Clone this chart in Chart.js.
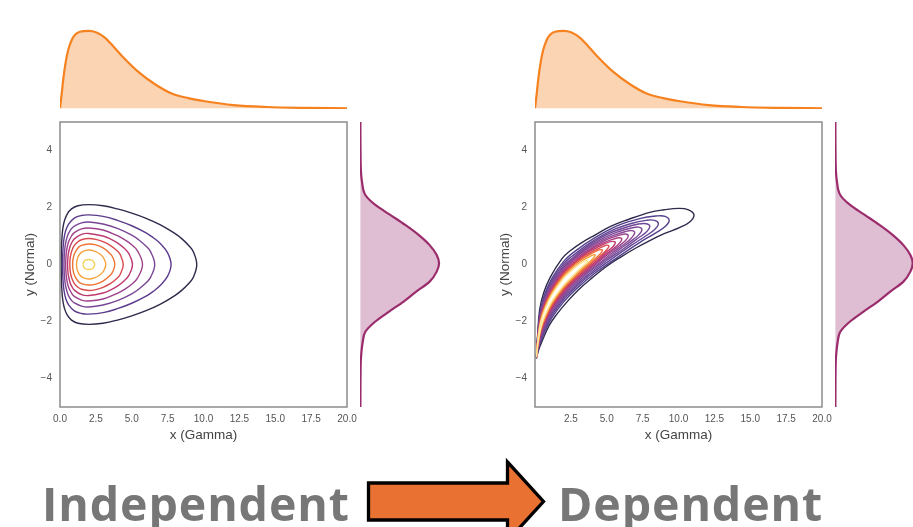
<!DOCTYPE html>
<html>
<head>
<meta charset="utf-8">
<script src="https://cdn.jsdelivr.net/npm/chart.js@4.4.1/dist/chart.umd.min.js"></script>
<style>
  html, body { margin: 0; padding: 0; background: #fff; }
  #page { position: relative; width: 913px; height: 527px; overflow: hidden; background: #fff; }
  canvas { position: absolute; }
  svg { position: absolute; left: 0; top: 0; pointer-events: none; }
</style>
</head>
<body>
<div id="page">
  <canvas id="leftTop" width="297" height="84" style="left:55px;top:25px"></canvas>
  <canvas id="rightTop" width="297" height="84" style="left:530px;top:25px"></canvas>
  <canvas id="leftMain" width="360" height="331" style="left:0;top:112px"></canvas>
  <canvas id="rightMain" width="360" height="331" style="left:475px;top:112px"></canvas>
  <canvas id="leftSide" width="95" height="295" style="left:355px;top:117px"></canvas>
  <canvas id="rightSide" width="83" height="295" style="left:830px;top:117px"></canvas>
  <svg width="913" height="527">
    <text x="42" y="520.5" font-family="Open Sans, Liberation Sans, sans-serif" font-weight="700" font-size="46.5" letter-spacing="0.9" fill="#777">Independent</text>
    <polygon points="368.5,483 507.5,483 507.5,462 543.5,501.5 507.5,541 507.5,520 368.5,520" fill="#e97132" stroke="#000" stroke-width="3.3" stroke-linejoin="miter"/>
    <text x="558" y="520.5" font-family="Open Sans, Liberation Sans, sans-serif" font-weight="700" font-size="46.5" letter-spacing="0.9" fill="#777">Dependent</text>
  </svg>
</div>
<script>
// tick labels
const xTicksLeft = [0, 2.5, 5, 7.5, 10, 12.5, 15, 17.5, 20];
const xTicksRight = [2.5, 5, 7.5, 10, 12.5, 15, 17.5, 20];
const yTicks = [-4, -2, 0, 2, 4];

// marginal densities (relative height, peak = 1)
const gammaX = [0, 0.12, 0.23, 0.4, 0.58, 0.81, 1.05, 1.39, 1.97, 2.55, 3.14, 3.72, 4.3, 5.46, 6.62, 7.78, 8.94, 10.1, 12.1, 14.4, 17, 20];
const gammaDensity = [0, 0.19, 0.38, 0.6, 0.76, 0.88, 0.95, 0.99, 1.0, 0.98, 0.91, 0.8, 0.68, 0.47, 0.31, 0.19, 0.13, 0.09, 0.04, 0.016, 0.005, 0];
const normalY = [-5, -3.5, -3.18, -2.71, -2.36, -2.0, -1.66, -1.3, -0.95, -0.6, -0.25, 0.04, 0.33, 0.68, 1.04, 1.39, 1.74, 2.09, 2.44, 2.91, 3.5, 5];
const normalDensity = [0, 0.004, 0.01, 0.03, 0.063, 0.19, 0.36, 0.55, 0.71, 0.88, 0.97, 1.0, 0.97, 0.88, 0.74, 0.57, 0.38, 0.19, 0.063, 0.02, 0.004, 0];

// independent panel: upper half of each contour (outer -> inner), mirrored about y = 0
const indepContourX = [
  [0.085, 0.1, 0.15, 0.2, 0.3, 0.5, 0.8, 1.25, 2, 3, 4, 5, 6, 7, 8, 8.5, 9, 9.3, 9.53],
  [0.177, 0.2, 0.25, 0.3, 0.4, 0.6, 1, 1.5, 2, 3, 4, 5, 6, 6.5, 7, 7.5, 7.74],
  [0.28, 0.3, 0.35, 0.4, 0.5, 0.6, 0.8, 1, 1.5, 2, 3, 4, 5, 5.5, 6, 6.3, 6.6],
  [0.395, 0.42, 0.5, 0.6, 0.8, 1, 1.5, 2, 3, 4, 4.5, 5, 5.4, 5.75],
  [0.528, 0.55, 0.6, 0.7, 0.8, 1, 1.5, 2, 3, 3.5, 4, 4.5, 4.8, 5.05],
  [0.685, 0.7, 0.75, 0.85, 1, 1.25, 1.5, 2, 2.5, 3, 3.5, 4, 4.2, 4.41],
  [0.88, 0.9, 1, 1.25, 1.5, 2, 2.5, 3, 3.5, 3.7, 3.82],
  [1.15, 1.2, 1.35, 1.6, 2, 2.4, 2.8, 3.05, 3.19],
  [1.6, 1.67, 1.78, 2.0, 2.22, 2.34, 2.42]
];
const indepContourY = [
  [0, 0.57, 1.04, 1.27, 1.52, 1.77, 1.95, 2.06, 2.1, 2.06, 1.95, 1.8, 1.62, 1.39, 1.09, 0.9, 0.65, 0.44, 0],
  [0, 0.47, 0.79, 0.97, 1.19, 1.42, 1.63, 1.72, 1.74, 1.69, 1.55, 1.36, 1.11, 0.94, 0.73, 0.41, 0],
  [0, 0.35, 0.62, 0.77, 0.97, 1.1, 1.26, 1.35, 1.46, 1.49, 1.42, 1.27, 1.03, 0.86, 0.64, 0.46, 0],
  [0, 0.32, 0.61, 0.8, 1.0, 1.12, 1.25, 1.28, 1.21, 1.01, 0.87, 0.69, 0.48, 0],
  [0, 0.25, 0.43, 0.63, 0.75, 0.9, 1.06, 1.09, 1.0, 0.9, 0.76, 0.56, 0.38, 0],
  [0, 0.18, 0.35, 0.52, 0.67, 0.8, 0.87, 0.91, 0.88, 0.8, 0.67, 0.47, 0.34, 0],
  [0, 0.16, 0.37, 0.58, 0.67, 0.72, 0.69, 0.58, 0.38, 0.23, 0],
  [0, 0.19, 0.35, 0.46, 0.51, 0.47, 0.36, 0.22, 0],
  [0, 0.1, 0.15, 0.175, 0.15, 0.1, 0]
];

// dependent panel: closed contours as [x, y] loops (outer -> inner)
const depContours = [
  [[0.09,-3.3],[0.18,-2.5],[0.32,-1.6],[0.6,-1.0],[1.06,-0.45],[1.87,0.2],[2.5,0.5],[3.26,0.77],[4.2,1.04],[5.23,1.33],[6.5,1.58],[8.0,1.83],[9.0,1.92],[10.0,1.97],[10.7,1.92],[11.08,1.74],[10.8,1.5],[10.1,1.3],[9.0,1.08],[8.0,0.84],[7.0,0.57],[6.0,0.27],[5.0,-0.06],[4.0,-0.46],[3.0,-0.9],[2.2,-1.33],[1.5,-1.76],[1.0,-2.13],[0.5,-2.68],[0.25,-3.0],[0.12,-3.25],[0.09,-3.3]],
  [[0.1,-3.25],[0.2,-2.43],[0.4,-1.54],[0.7,-1.01],[1.2,-0.47],[2.0,0.11],[2.8,0.47],[4.21,0.95],[5.8,1.37],[7.29,1.61],[8.42,1.7],[9.07,1.69],[9.35,1.54],[9.07,1.33],[8.42,1.11],[7.29,0.77],[5.8,0.27],[4.21,-0.29],[2.8,-0.89],[2.0,-1.31],[1.2,-1.85],[0.7,-2.33],[0.4,-2.7],[0.2,-3.03],[0.1,-3.25]],
  [[0.1,-3.25],[0.2,-2.46],[0.4,-1.61],[0.7,-1.09],[1.2,-0.55],[2.0,0.03],[2.58,0.29],[3.87,0.77],[5.33,1.19],[6.71,1.44],[7.74,1.55],[8.34,1.55],[8.6,1.43],[8.34,1.23],[7.74,1.01],[6.71,0.67],[5.33,0.19],[3.87,-0.35],[2.58,-0.92],[2.0,-1.23],[1.2,-1.77],[0.7,-2.25],[0.4,-2.63],[0.2,-3.0],[0.1,-3.25]],
  [[0.1,-3.25],[0.2,-2.49],[0.4,-1.67],[0.7,-1.15],[1.2,-0.62],[2.0,-0.04],[2.4,0.14],[3.6,0.62],[4.96,1.04],[6.24,1.29],[7.2,1.42],[7.76,1.43],[8.0,1.34],[7.76,1.14],[7.2,0.93],[6.24,0.58],[4.96,0.13],[3.6,-0.4],[2.4,-0.95],[2.0,-1.16],[1.2,-1.7],[0.7,-2.19],[0.4,-2.58],[0.2,-2.97],[0.1,-3.25]],
  [[0.1,-3.25],[0.2,-2.52],[0.4,-1.71],[0.7,-1.2],[1.2,-0.68],[2.0,-0.1],[3.35,0.48],[4.62,0.89],[5.81,1.15],[6.71,1.28],[7.23,1.31],[7.45,1.22],[7.23,1.04],[6.71,0.83],[5.81,0.5],[4.62,0.06],[3.35,-0.44],[2.0,-1.1],[1.2,-1.64],[0.7,-2.14],[0.4,-2.53],[0.2,-2.94],[0.1,-3.25]],
  [[0.1,-3.25],[0.2,-2.54],[0.4,-1.75],[0.7,-1.25],[1.2,-0.73],[2.0,-0.15],[3.13,0.36],[4.31,0.75],[5.42,1.01],[6.26,1.15],[6.74,1.19],[6.95,1.12],[6.74,0.94],[6.26,0.73],[5.42,0.42],[4.31,-0.02],[3.13,-0.48],[2.0,-1.05],[1.2,-1.6],[0.7,-2.09],[0.4,-2.49],[0.2,-2.92],[0.1,-3.25]],
  [[0.1,-3.25],[0.2,-2.56],[0.4,-1.8],[0.7,-1.3],[1.2,-0.78],[2.0,-0.2],[2.93,0.23],[4.03,0.61],[5.07,0.89],[5.85,1.02],[6.31,1.07],[6.5,1.0],[6.31,0.84],[5.85,0.65],[5.07,0.35],[4.03,-0.07],[2.93,-0.52],[2.0,-1.0],[1.2,-1.55],[0.7,-2.04],[0.4,-2.44],[0.2,-2.9],[0.1,-3.25]],
  [[0.1,-3.25],[0.2,-2.58],[0.4,-1.83],[0.7,-1.34],[1.2,-0.82],[2.0,-0.24],[2.72,0.09],[3.75,0.48],[4.72,0.75],[5.45,0.89],[5.87,0.94],[6.05,0.89],[5.87,0.74],[5.45,0.55],[4.72,0.26],[3.75,-0.15],[2.72,-0.59],[2.0,-0.96],[1.2,-1.5],[0.7,-2.0],[0.4,-2.41],[0.2,-2.88],[0.1,-3.25]],
  [[0.1,-3.25],[0.2,-2.6],[0.4,-1.87],[0.7,-1.38],[1.2,-0.86],[2.0,-0.29],[2.52,-0.04],[3.47,0.35],[4.37,0.61],[5.04,0.77],[5.43,0.81],[5.6,0.77],[5.43,0.62],[5.04,0.46],[4.37,0.16],[3.47,-0.22],[2.52,-0.65],[2.0,-0.91],[1.2,-1.46],[0.7,-1.96],[0.4,-2.38],[0.2,-2.86],[0.1,-3.25]],
  [[0.1,-3.25],[0.2,-2.61],[0.4,-1.9],[0.7,-1.42],[1.2,-0.9],[2.0,-0.33],[3.19,0.21],[4.02,0.46],[4.64,0.61],[5.0,0.68],[5.15,0.64],[5.0,0.52],[4.64,0.34],[4.02,0.07],[3.19,-0.29],[2.0,-0.87],[1.2,-1.42],[0.7,-1.92],[0.4,-2.34],[0.2,-2.85],[0.1,-3.25]],
  [[0.1,-3.25],[0.2,-2.63],[0.4,-1.93],[0.7,-1.46],[1.2,-0.94],[2.0,-0.37],[2.91,0.06],[3.67,0.31],[4.23,0.46],[4.56,0.52],[4.7,0.5],[4.56,0.38],[4.23,0.22],[3.67,-0.03],[2.91,-0.37],[2.0,-0.83],[1.2,-1.38],[0.7,-1.88],[0.4,-2.31],[0.2,-2.83],[0.1,-3.25]],
  [[0.1,-3.25],[0.2,-2.65],[0.4,-1.98],[0.7,-1.5],[1.2,-0.99],[2.0,-0.42],[2.6,-0.14],[3.28,0.13],[3.78,0.27],[4.07,0.34],[4.2,0.33],[4.07,0.23],[3.78,0.08],[3.28,-0.14],[2.6,-0.47],[2.0,-0.78],[1.2,-1.33],[0.7,-1.84],[0.4,-2.27],[0.2,-2.81],[0.1,-3.25]],
  [[0.1,-3.25],[0.2,-2.68],[0.4,-2.02],[0.7,-1.56],[1.2,-1.05],[2.0,-0.48],[2.29,-0.34],[2.89,-0.07],[3.33,0.08],[3.59,0.15],[3.7,0.15],[3.59,0.07],[3.33,-0.05],[2.89,-0.26],[2.29,-0.57],[2.0,-0.72],[1.2,-1.27],[0.7,-1.78],[0.4,-2.22],[0.2,-2.78],[0.1,-3.25]]
];

const indepColors = ['#2f2a4b', '#5b3b8b', '#7a4595', '#9c418c', '#bd3a70', '#da4a4f', '#ee7433', '#f7a23c', '#f4d05c'];
const depColors = ['#2f2a4b', '#54408c', '#624593', '#704897', '#7d4a98', '#8b4995', '#9b448d', '#ad3f81', '#c23b6d', '#d94950', '#ec6c35', '#f7a13b', '#fbe7a0'];

const FONT = 'Liberation Sans, Arial, sans-serif';

const boxPlugin = {
  id: 'box',
  afterDatasetsDraw(chart) {
    const { ctx, chartArea: a } = chart;
    ctx.save();
    ctx.strokeStyle = '#8c8c8c';
    ctx.lineWidth = 1.5;
    ctx.strokeRect(a.left, a.top, a.right - a.left, a.bottom - a.top);
    ctx.restore();
  }
};

function mirrorLoop(xs, ys) {
  const pts = xs.map((x, i) => ({ x: x, y: ys[i] }));
  for (let i = xs.length - 2; i >= 0; i--) pts.push({ x: xs[i], y: -ys[i] });
  return pts;
}

function contourChart(id, loops, colors, xTicks) {
  const n = loops.length;
  new Chart(document.getElementById(id), {
    type: 'scatter',
    data: {
      datasets: loops.map((pts, k) => ({
        data: pts,
        showLine: true,
        borderColor: colors[k],
        borderWidth: 1.4,
        pointRadius: 0,
        tension: 0.4,
        fill: false,
        order: n - k
      }))
    },
    options: {
      responsive: false,
      animation: false,
      events: [],
      layout: { padding: { left: 22, top: 10, right: 13, bottom: 0 } },
      plugins: { legend: { display: false }, tooltip: { enabled: false } },
      scales: {
        x: {
          type: 'linear', min: 0, max: 20,
          grid: { display: false, drawTicks: false },
          border: { display: false },
          afterBuildTicks: s => { s.ticks = xTicks.map(v => ({ value: v })); },
          afterFit: s => { s.height = 36; s.paddingLeft = 0; s.paddingRight = 0; },
          ticks: { padding: 6, color: '#555', autoSkip: false, maxRotation: 0,
                   font: { family: FONT, size: 10 }, callback: v => v.toFixed(1) },
          title: { display: true, text: 'x (Gamma)', color: '#444', padding: 0,
                   font: { family: FONT, size: 13.5 } }
        },
        y: {
          type: 'linear', min: -5, max: 5,
          grid: { display: false, drawTicks: false },
          border: { display: false },
          afterBuildTicks: s => { s.ticks = yTicks.map(v => ({ value: v })); },
          afterFit: s => { s.width = 38; s.paddingTop = 0; s.paddingBottom = 0; },
          ticks: { padding: 8, color: '#555', autoSkip: false,
                   font: { family: FONT, size: 10 }, callback: v => String(v).replace('-', '\u2212') },
          title: { display: true, text: 'y (Normal)', color: '#444', padding: 0,
                   font: { family: FONT, size: 13.5 } }
        }
      }
    },
    plugins: [boxPlugin]
  });
}

function topMarginal(id) {
  new Chart(document.getElementById(id), {
    type: 'line',
    data: {
      datasets: [{
        data: gammaX.map((x, i) => ({ x: x, y: gammaDensity[i] })),
        borderColor: '#f5821f', borderWidth: 2.2,
        backgroundColor: '#fbd4b4', fill: 'origin',
        pointRadius: 0, cubicInterpolationMode: 'monotone'
      }]
    },
    options: {
      responsive: false, animation: false, events: [],
      layout: { padding: { left: 5, right: 5, top: 0, bottom: 0 } },
      plugins: { legend: { display: false }, tooltip: { enabled: false } },
      scales: {
        x: { type: 'linear', min: 0, max: 20, display: false },
        y: { type: 'linear', min: -0.01, max: 1.077, display: false }
      }
    }
  });
}

function sideMarginal(id, xmax) {
  new Chart(document.getElementById(id), {
    type: 'line',
    data: {
      datasets: [{
        data: normalY.map((y, i) => ({ x: normalDensity[i], y: y })),
        borderColor: '#9b2c6c', borderWidth: 2.2,
        backgroundColor: '#dfbdd2', fill: 'origin',
        pointRadius: 0, cubicInterpolationMode: 'monotone'
      }]
    },
    options: {
      indexAxis: 'y',
      responsive: false, animation: false, events: [],
      layout: { padding: { left: 5, right: 0, top: 5, bottom: 5 } },
      plugins: { legend: { display: false }, tooltip: { enabled: false } },
      scales: {
        x: { type: 'linear', min: -0.005, max: xmax, display: false },
        y: { type: 'linear', min: -5, max: 5, display: false }
      }
    }
  });
}

const indepLoops = indepContourX.map((xs, k) => mirrorLoop(xs, indepContourY[k]));
const depLoops = depContours.map(loop => loop.map(p => ({ x: p[0], y: p[1] })));

contourChart('leftMain', indepLoops, indepColors, xTicksLeft);
contourChart('rightMain', depLoops, depColors, xTicksRight);
topMarginal('leftTop');
topMarginal('rightTop');
sideMarginal('leftSide', 1.139);
sideMarginal('rightSide', 1.004);
</script>
</body>
</html>
